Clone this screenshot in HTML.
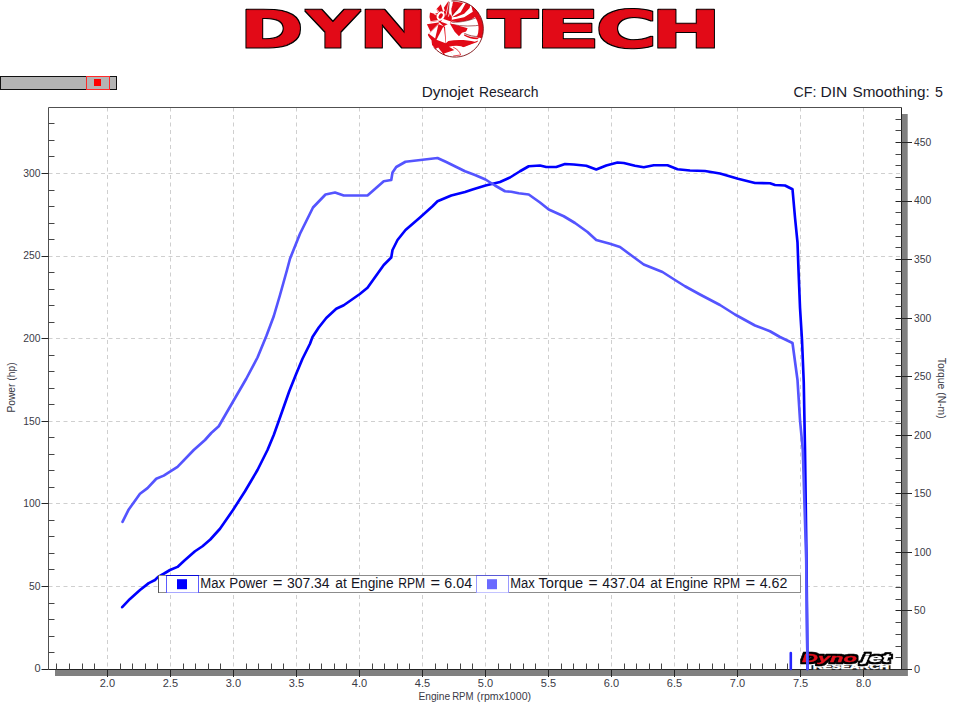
<!DOCTYPE html>
<html lang="en"><head><meta charset="utf-8"><title>Dynotech - Dynojet Research</title>
<style>html,body{margin:0;padding:0;background:#fff}body{width:960px;height:720px;overflow:hidden;font-family:"Liberation Sans", sans-serif}svg{display:block;font-family:"Liberation Sans", sans-serif}</style>
</head><body>
<svg width="960" height="720" viewBox="0 0 960 720">
<rect width="960" height="720" fill="#fff"/>
<filter id="lo" x="-5%" y="-15%" width="110%" height="130%" color-interpolation-filters="sRGB"><feMorphology in="SourceAlpha" operator="dilate" radius="0.9" result="d"/><feFlood flood-color="#000"/><feComposite in2="d" operator="in" result="o"/><feMerge><feMergeNode in="o"/><feMergeNode in="SourceGraphic"/></feMerge></filter>
<g id="dynotech" style="font-family:'DejaVu Sans', sans-serif" font-weight="bold" font-size="50.443" stroke-linejoin="round" text-rendering="geometricPrecision" fill="#e20a17" stroke="#e20a17" stroke-width="1.00" filter="url(#lo)">
<text y="46.80"><tspan x="240.24" textLength="62.94" lengthAdjust="spacingAndGlyphs">D</tspan><tspan x="306.78" textLength="52.38" lengthAdjust="spacingAndGlyphs">Y</tspan><tspan x="359.07" textLength="68.40" lengthAdjust="spacingAndGlyphs">N</tspan></text>
<text y="46.80"><tspan x="487.75" textLength="50.21" lengthAdjust="spacingAndGlyphs">T</tspan><tspan x="535.30" textLength="65.03" lengthAdjust="spacingAndGlyphs">E</tspan><tspan x="596.08" textLength="60.74" lengthAdjust="spacingAndGlyphs">C</tspan><tspan x="651.59" textLength="69.22" lengthAdjust="spacingAndGlyphs">H</tspan></text>
</g>
<g id="turbo" transform="translate(424,0) scale(0.083333)" stroke-linejoin="round">
<clipPath id="tc"><circle cx="376" cy="348" r="338"/></clipPath>
<circle cx="376" cy="348" r="338" fill="#fff"/>
<g clip-path="url(#tc)">
<path d="M350 18L472 34L400 122L336 192L326 100Z" fill="#e20a17"/>
<path d="M500 40L566 6L548 96L482 166L392 202L336 206L440 146Z" fill="#e20a17"/>
<path d="M566 64L700 112L652 178L562 238L430 268L336 258L336 236L482 206L586 142Z" fill="#e20a17"/>
<path d="M338 268C440 268 560 250 668 192L700 215L704 296C600 318 450 318 338 292Z" fill="#fff"/>
<path d="M338 268C440 268 560 250 668 192M338 294C450 318 600 318 704 296" fill="none" stroke="#7d0f14" stroke-width="8"/>
<path d="M308 280L526 340L506 378L456 392L420 434L368 380Z" fill="#e20a17"/>
<path d="M528 334L694 318L690 440L640 446L486 400L510 378Z" fill="#fff"/>
<path d="M484 400C540 428 600 442 662 436" fill="none" stroke="#7d0f14" stroke-width="9"/>
<path d="M484 410C540 440 600 455 668 448L640 470C580 470 520 450 480 425Z" fill="#e20a17"/>
<path d="M610 150A306 306 0 0 1 664 452" fill="none" stroke="#e20a17" stroke-width="60"/>
<path d="M262 520L292 492C400 470 520 480 610 500L650 485L640 505L560 534L490 562L300 622L250 560Z" fill="#e20a17"/>
<path d="M40 420L62 398L176 292L232 312L252 322L266 524L300 560L322 622L340 655L250 676L150 640L100 582L90 482Z" fill="#e20a17"/>
<path d="M58 404L172 298L134 462Z" fill="#fff"/>
<path d="M150 476L228 328L240 328L260 518Z" fill="#fff"/>
<path d="M300 562C380 542 450 547 492 580C482 622 442 642 400 652C380 612 340 582 300 562Z" fill="#fff"/>
<path d="M502 562L622 520C602 572 562 612 512 634Z" fill="#fff"/>
<path d="M108 602L170 570L232 652L180 642Z" fill="#fff"/>
<path d="M240 642L320 616L346 656L270 678Z" fill="#fff"/>
<path d="M350 672L440 660C430 620 400 590 350 566" fill="none" stroke="#e20a17" stroke-width="9"/>
</g>
<path d="M330 12A338 338 0 1 1 120 570" fill="none" stroke="#7d0f14" stroke-width="11"/>
<path d="M35 292L192 266L78 382Z" fill="#e20a17"/>
<path d="M72 150L132 168L176 250L82 268L66 205Z" fill="#e20a17"/>
<path d="M148 112L202 50L230 140L176 158Z" fill="#e20a17"/>
<path d="M238 92L292 16L304 30L294 152L252 134Z" fill="#e20a17"/>
<path d="M128 168L180 148L236 128L300 150L334 200L334 264L236 316L188 270L170 252Z" fill="#e20a17"/>
<path d="M200 200L120 166M215 190L148 104M235 185L232 92M262 185L300 22M292 200L338 56M56 264L200 240" fill="none" stroke="#fff" stroke-width="9"/>
<path d="M296 150L302 22M334 192L404 92" fill="none" stroke="#7d0f14" stroke-width="6"/>
<path d="M224 224L324 258L302 298L203 262Z" fill="#fff"/>
<ellipse cx="200" cy="192" rx="34" ry="46" transform="rotate(28 200 192)" fill="#e20a17" stroke="#fff" stroke-width="24"/>
</g>
<g id="slider"><rect x="0.5" y="76.5" width="116" height="13" fill="#b4b4b4" stroke="#111" stroke-width="1"/>
<rect x="86.5" y="76.5" width="23" height="13" fill="none" stroke="#ff2a2a" stroke-width="1"/>
<rect x="94" y="79" width="7" height="7" fill="#ff0000"/></g>
<text y="96.90" font-size="14.6" fill="#1a1a2a"><tspan x="421.67" textLength="51.99" lengthAdjust="spacingAndGlyphs">Dynojet</tspan> <tspan x="478.89" textLength="59.59" lengthAdjust="spacingAndGlyphs">Research</tspan></text>
<text y="96.70" font-size="14.4" fill="#1a1a2a"><tspan x="793.49" textLength="22.90" lengthAdjust="spacingAndGlyphs">CF:</tspan> <tspan x="820.55" textLength="26.83" lengthAdjust="spacingAndGlyphs">DIN</tspan> <tspan x="852.44" textLength="77.32" lengthAdjust="spacingAndGlyphs">Smoothing:</tspan> <tspan x="934.93" textLength="7.93" lengthAdjust="spacingAndGlyphs">5</tspan></text>
<g id="shadow" fill="#808080"><rect x="902" y="114" width="5.7" height="562"/><rect x="55" y="670" width="852.7" height="6"/></g>
<path d="M107.5 107.5V669.5M170.5 107.5V669.5M233.5 107.5V669.5M296.5 107.5V669.5M359.5 107.5V669.5M422.5 107.5V669.5M485.5 107.5V669.5M548.5 107.5V669.5M611.5 107.5V669.5M674.5 107.5V669.5M737.5 107.5V669.5M800.5 107.5V669.5M863.5 107.5V669.5M48.5 586.5H901.5M48.5 503.5H901.5M48.5 421.5H901.5M48.5 338.5H901.5M48.5 256.5H901.5M48.5 173.5H901.5" stroke="#cfcfcf" stroke-width="1" stroke-dasharray="4 3.5" fill="none"/>
<path d="M48.5 669.5V107.5H901.5" fill="none" stroke="#505050" stroke-width="1"/>
<path d="M901.5 107.5V669.5H48.5" fill="none" stroke="#222" stroke-width="1"/>
<path d="M56.5 669.5v-6M69.5 669.5v-6M82.5 669.5v-6M94.5 669.5v-6M120.5 669.5v-6M132.5 669.5v-6M145.5 669.5v-6M157.5 669.5v-6M183.5 669.5v-6M195.5 669.5v-6M208.5 669.5v-6M220.5 669.5v-6M246.5 669.5v-6M258.5 669.5v-6M271.5 669.5v-6M283.5 669.5v-6M309.5 669.5v-6M321.5 669.5v-6M334.5 669.5v-6M346.5 669.5v-6M372.5 669.5v-6M384.5 669.5v-6M397.5 669.5v-6M409.5 669.5v-6M435.5 669.5v-6M447.5 669.5v-6M460.5 669.5v-6M472.5 669.5v-6M498.5 669.5v-6M510.5 669.5v-6M523.5 669.5v-6M535.5 669.5v-6M561.5 669.5v-6M573.5 669.5v-6M586.5 669.5v-6M598.5 669.5v-6M624.5 669.5v-6M636.5 669.5v-6M649.5 669.5v-6M661.5 669.5v-6M687.5 669.5v-6M699.5 669.5v-6M712.5 669.5v-6M724.5 669.5v-6M750.5 669.5v-6M762.5 669.5v-6M775.5 669.5v-6M787.5 669.5v-6M813.5 669.5v-6M825.5 669.5v-6M838.5 669.5v-6M850.5 669.5v-6M876.5 669.5v-6M888.5 669.5v-6M48.5 652.5h6M48.5 636.5h6M48.5 619.5h6M48.5 603.5h6M48.5 569.5h6M48.5 553.5h6M48.5 536.5h6M48.5 520.5h6M48.5 487.5h6M48.5 470.5h6M48.5 454.5h6M48.5 437.5h6M48.5 404.5h6M48.5 388.5h6M48.5 371.5h6M48.5 355.5h6M48.5 322.5h6M48.5 305.5h6M48.5 289.5h6M48.5 272.5h6M48.5 239.5h6M48.5 223.5h6M48.5 206.5h6M48.5 190.5h6M48.5 156.5h6M48.5 140.5h6M48.5 123.5h6M901.5 657.5h-6M901.5 646.5h-6M901.5 634.5h-6M901.5 622.5h-6M901.5 599.5h-6M901.5 587.5h-6M901.5 575.5h-6M901.5 564.5h-6M901.5 540.5h-6M901.5 528.5h-6M901.5 517.5h-6M901.5 505.5h-6M901.5 482.5h-6M901.5 470.5h-6M901.5 458.5h-6M901.5 447.5h-6M901.5 423.5h-6M901.5 411.5h-6M901.5 400.5h-6M901.5 388.5h-6M901.5 365.5h-6M901.5 353.5h-6M901.5 341.5h-6M901.5 329.5h-6M901.5 306.5h-6M901.5 294.5h-6M901.5 283.5h-6M901.5 271.5h-6M901.5 247.5h-6M901.5 236.5h-6M901.5 224.5h-6M901.5 212.5h-6M901.5 189.5h-6M901.5 177.5h-6M901.5 165.5h-6M901.5 154.5h-6M901.5 130.5h-6M901.5 119.5h-6" stroke="#464646" stroke-width="1" fill="none"/>
<path d="M107.5 669.5v7.5M170.5 669.5v7.5M233.5 669.5v7.5M296.5 669.5v7.5M359.5 669.5v7.5M422.5 669.5v7.5M485.5 669.5v7.5M548.5 669.5v7.5M611.5 669.5v7.5M674.5 669.5v7.5M737.5 669.5v7.5M800.5 669.5v7.5M863.5 669.5v7.5M48.5 669.5h-7M48.5 586.5h-7M48.5 503.5h-7M48.5 421.5h-7M48.5 338.5h-7M48.5 256.5h-7M48.5 173.5h-7M895.5 669.5h16.5M895.5 610.5h16.5M895.5 552.5h16.5M895.5 493.5h16.5M895.5 435.5h16.5M895.5 376.5h16.5M895.5 318.5h16.5M895.5 259.5h16.5M895.5 201.5h16.5M895.5 142.5h16.5" stroke="#262626" stroke-width="1" fill="none"/>
<g font-size="11" fill="#3a3a46">
<text x="40.5" y="672.4" text-anchor="end">0</text>
<text x="40.5" y="589.8" text-anchor="end" textLength="11.5" lengthAdjust="spacingAndGlyphs">50</text>
<text x="40.5" y="507.2" text-anchor="end" textLength="17.2" lengthAdjust="spacingAndGlyphs">100</text>
<text x="40.5" y="424.6" text-anchor="end" textLength="17.2" lengthAdjust="spacingAndGlyphs">150</text>
<text x="40.5" y="342.0" text-anchor="end" textLength="17.2" lengthAdjust="spacingAndGlyphs">200</text>
<text x="40.5" y="259.4" text-anchor="end" textLength="17.2" lengthAdjust="spacingAndGlyphs">250</text>
<text x="40.5" y="176.8" text-anchor="end" textLength="17.2" lengthAdjust="spacingAndGlyphs">300</text>
<text x="914" y="672.8">0</text>
<text x="914" y="614.2" textLength="11.5" lengthAdjust="spacingAndGlyphs">50</text>
<text x="914" y="555.7" textLength="17.2" lengthAdjust="spacingAndGlyphs">100</text>
<text x="914" y="497.2" textLength="17.2" lengthAdjust="spacingAndGlyphs">150</text>
<text x="914" y="438.6" textLength="17.2" lengthAdjust="spacingAndGlyphs">200</text>
<text x="914" y="380.1" textLength="17.2" lengthAdjust="spacingAndGlyphs">250</text>
<text x="914" y="321.5" textLength="17.2" lengthAdjust="spacingAndGlyphs">300</text>
<text x="914" y="262.9" textLength="17.2" lengthAdjust="spacingAndGlyphs">350</text>
<text x="914" y="204.4" textLength="17.2" lengthAdjust="spacingAndGlyphs">400</text>
<text x="914" y="145.8" textLength="17.2" lengthAdjust="spacingAndGlyphs">450</text>
<text x="107.4" y="686.5" text-anchor="middle">2.0</text>
<text x="170.4" y="686.5" text-anchor="middle">2.5</text>
<text x="233.4" y="686.5" text-anchor="middle">3.0</text>
<text x="296.4" y="686.5" text-anchor="middle">3.5</text>
<text x="359.5" y="686.5" text-anchor="middle">4.0</text>
<text x="422.5" y="686.5" text-anchor="middle">4.5</text>
<text x="485.5" y="686.5" text-anchor="middle">5.0</text>
<text x="548.5" y="686.5" text-anchor="middle">5.5</text>
<text x="611.5" y="686.5" text-anchor="middle">6.0</text>
<text x="674.5" y="686.5" text-anchor="middle">6.5</text>
<text x="737.5" y="686.5" text-anchor="middle">7.0</text>
<text x="800.6" y="686.5" text-anchor="middle">7.5</text>
<text x="863.6" y="686.5" text-anchor="middle">8.0</text>
</g>
<text y="699.60" font-size="11" fill="#3a3a46"><tspan x="418.38" textLength="31.87" lengthAdjust="spacingAndGlyphs">Engine</tspan> <tspan x="452.13" textLength="21.36" lengthAdjust="spacingAndGlyphs">RPM</tspan> <tspan x="476.86" textLength="54.20" lengthAdjust="spacingAndGlyphs">(rpmx1000)</tspan></text>
<text transform="translate(15,387.5) rotate(-90)" font-size="11" fill="#3a3a46" text-anchor="middle" textLength="50.2" lengthAdjust="spacingAndGlyphs">Power (hp)</text>
<text transform="translate(938,388.2) rotate(90)" font-size="11" fill="#3a3a46" text-anchor="middle" textLength="61" lengthAdjust="spacingAndGlyphs">Torque (N-m)</text>
<filter id="dj" x="-10%" y="-30%" width="120%" height="160%" color-interpolation-filters="sRGB"><feMorphology in="SourceAlpha" operator="dilate" radius="2.5" result="w"/><feFlood flood-color="#fff"/><feComposite in2="w" operator="in" result="wh"/><feMorphology in="SourceAlpha" operator="dilate" radius="1.8" result="d"/><feFlood flood-color="#000"/><feComposite in2="d" operator="in" result="bk"/><feMerge><feMergeNode in="wh"/><feMergeNode in="bk"/><feMergeNode in="SourceGraphic"/></feMerge></filter>
<g id="dynojet" font-weight="bold" stroke-linejoin="round">
<rect x="811.5" y="663.4" width="79" height="6" fill="#1a1a1a"/>
<text x="813" y="669.2" font-size="6.6" fill="#fff" stroke="#fff" stroke-width="0.5" textLength="76" lengthAdjust="spacingAndGlyphs">RESEARCH</text>
<text y="661.8" font-size="11.2" font-style="italic" filter="url(#dj)"><tspan x="802" textLength="55" lengthAdjust="spacingAndGlyphs" fill="#e3101c" stroke="#e3101c" stroke-width="0.3">Dyno</tspan><tspan x="862.5" textLength="27.5" lengthAdjust="spacingAndGlyphs" fill="#fff" stroke="#fff" stroke-width="0.3">jet</tspan></text>
</g>
<g fill="none" stroke-linejoin="round" stroke-linecap="round" stroke-width="2.65">
<polyline stroke="#0000ff" points="122.20,607.20 130.00,598.90 140.00,590.00 148.75,583.10 155.00,580.00 158.10,576.90 163.75,573.75 170.00,570.00 177.50,566.90 185.00,560.00 195.00,551.25 202.50,546.25 210.30,539.50 220.00,528.75 233.00,510.00 245.00,491.25 257.50,470.00 267.50,450.00 273.75,435.00 280.00,417.50 289.25,391.25 296.25,373.75 302.50,358.75 310.00,343.75 312.50,337.00 318.75,327.50 326.25,318.00 336.25,308.75 343.75,305.25 359.50,294.25 367.50,287.75 383.75,265.00 391.25,257.50 392.50,250.00 397.50,240.00 405.50,230.00 420.00,217.50 432.50,206.25 437.50,201.25 451.25,195.50 465.00,192.00 472.50,189.50 485.50,185.50 500.00,182.00 510.00,177.50 520.00,171.25 528.75,166.25 540.00,165.50 546.25,167.00 556.25,167.00 565.00,164.00 573.75,164.50 586.25,165.75 596.25,169.50 606.25,165.50 617.50,162.50 623.75,163.00 635.00,165.75 643.75,167.25 653.75,165.25 667.50,165.25 677.50,169.25 690.00,170.50 705.00,171.00 720.00,173.50 738.00,178.75 755.00,183.00 770.00,183.25 775.00,185.00 785.00,185.50 792.50,189.25 795.00,217.50 797.50,242.50 798.50,270.00 800.00,307.50 802.00,340.00 803.75,382.50 805.00,450.00 806.50,560.00 807.50,669.00"/>
<polyline stroke="#5454ff" points="122.50,521.90 128.75,509.40 140.00,493.75 147.50,488.10 156.25,478.75 163.75,475.60 170.00,471.70 177.50,466.90 193.75,450.00 205.00,440.00 211.25,433.00 218.75,426.25 232.50,402.50 246.25,378.75 257.50,357.50 266.25,336.25 273.75,316.25 280.00,295.00 287.00,270.00 290.00,258.75 300.00,233.75 313.00,207.50 325.50,194.50 335.00,192.50 343.75,195.50 367.50,195.50 383.75,181.25 391.25,180.00 392.50,172.50 396.25,167.00 405.50,161.75 437.50,158.00 446.25,162.00 465.00,171.25 475.00,175.00 485.50,179.50 495.00,185.50 505.00,191.25 511.25,191.75 518.75,193.25 528.75,194.50 540.00,202.50 548.75,209.50 563.75,216.25 575.00,223.00 587.50,232.00 596.25,240.00 610.00,243.75 620.00,247.00 632.50,256.25 643.75,264.50 662.50,272.00 675.00,280.00 685.00,286.25 700.00,294.50 720.00,305.00 735.00,314.50 755.00,325.50 770.00,331.25 780.00,337.00 792.50,343.00 797.50,380.00 800.00,420.00 802.80,450.00 806.20,560.00 807.50,669.00"/>
<path d="M790.8 653V669" stroke="#2626ff" stroke-width="2.6"/>
</g>
<g id="legend">
<rect x="158.5" y="575.5" width="642" height="17" fill="#fff" stroke="#8c8c8c" stroke-width="1"/>
<path d="M158.5 575V593" stroke="#5a5a5a" stroke-width="1"/>
<rect x="166.5" y="575.5" width="32" height="17" fill="#fff" stroke="#5c5cff" stroke-width="1"/>
<path d="M166 575.5H199" stroke="#0808d8" stroke-width="1"/><path d="M167 592.5H198" stroke="#a8a8ff" stroke-width="1"/>
<rect x="177" y="579.2" width="10" height="10" fill="#0000ff"/>
<text y="588.40" font-size="14" fill="#15151f"><tspan x="200.25" textLength="24.87" lengthAdjust="spacingAndGlyphs">Max</tspan> <tspan x="229.23" textLength="37.97" lengthAdjust="spacingAndGlyphs">Power</tspan> <tspan x="272.87" textLength="9.73" lengthAdjust="spacingAndGlyphs">=</tspan> <tspan x="286.94" textLength="42.66" lengthAdjust="spacingAndGlyphs">307.34</tspan> <tspan x="335.25" textLength="11.51" lengthAdjust="spacingAndGlyphs">at</tspan> <tspan x="350.90" textLength="42.70" lengthAdjust="spacingAndGlyphs">Engine</tspan> <tspan x="398.23" textLength="26.97" lengthAdjust="spacingAndGlyphs">RPM</tspan> <tspan x="430.48" textLength="9.61" lengthAdjust="spacingAndGlyphs">=</tspan> <tspan x="444.29" textLength="27.79" lengthAdjust="spacingAndGlyphs">6.04</tspan></text>
<rect x="476.5" y="575.5" width="32" height="17" fill="#fff" stroke="#9a9aff" stroke-width="1"/>
<path d="M476 575.5H509" stroke="#5a5ad4" stroke-width="1"/><path d="M477 592.5H508" stroke="#c4c4ff" stroke-width="1"/>
<rect x="487" y="579.2" width="10" height="10" fill="#6a6aff"/>
<text y="588.40" font-size="14" fill="#15151f"><tspan x="510.26" textLength="24.56" lengthAdjust="spacingAndGlyphs">Max</tspan> <tspan x="538.41" textLength="44.79" lengthAdjust="spacingAndGlyphs">Torque</tspan> <tspan x="588.42" textLength="9.13" lengthAdjust="spacingAndGlyphs">=</tspan> <tspan x="602.22" textLength="42.88" lengthAdjust="spacingAndGlyphs">437.04</tspan> <tspan x="650.25" textLength="11.51" lengthAdjust="spacingAndGlyphs">at</tspan> <tspan x="665.61" textLength="42.49" lengthAdjust="spacingAndGlyphs">Engine</tspan> <tspan x="713.23" textLength="26.97" lengthAdjust="spacingAndGlyphs">RPM</tspan> <tspan x="745.48" textLength="9.61" lengthAdjust="spacingAndGlyphs">=</tspan> <tspan x="759.72" textLength="27.64" lengthAdjust="spacingAndGlyphs">4.62</tspan></text>
</g>
</svg></body></html>
